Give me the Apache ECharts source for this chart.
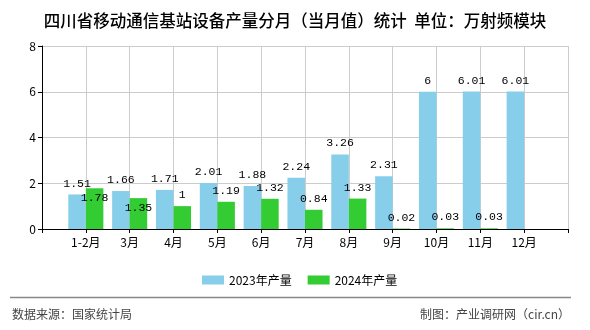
<!DOCTYPE html>
<html><head><meta charset="utf-8">
<script src="https://cdn.jsdelivr.net/npm/echarts@6/dist/echarts.min.js"></script>
<style>html,body{margin:0;padding:0;background:#fff}#c{width:590px;height:330px}</style>
</head><body><div id="c"></div>
<script>
var months = ['1-2月','3月','4月','5月','6月','7月','8月','9月','10月','11月','12月'];
var values2023 = [1.51,1.66,1.71,2.01,1.88,2.24,3.26,2.31,6,6.01,6.01];
var values2024 = [1.78,1.35,1,1.19,1.32,0.84,1.33,0.02,0.03,0.03];
var yTicks = [0,2,4,6,8];

var cats = [''].concat(months).concat(['']);
function pad(arr){ var out=['-']; for(var i=0;i<months.length;i++){ out.push(i<arr.length?arr[i]:'-'); } out.push('-'); return out; }
var d23 = pad(values2023);
var d24 = pad(values2024).map(function(v,i){
  if (i===1 || i===2) return {value:v, label:{offset:[0,21]}};
  return v;
});
var labelStyle = {show:true, position:'top', distance:5, color:'#000', fontSize:11.5, fontFamily:'Liberation Mono, DejaVu Sans Mono, monospace'};
var chart = echarts.init(document.getElementById('c'), null, {renderer:'canvas'});
chart.setOption({
  animation:false,
  backgroundColor:'#fff',
  title:{text:'四川省移动通信基站设备产量分月（当月值）统计  单位：万射频模块', left:'center', top:7,
    textStyle:{fontSize:16.5, fontWeight:500, color:'#000', fontFamily:'Noto Sans CJK SC'}},
  grid:{left:42, right:22, top:46, bottom:101},
  legend:{left:197, top:269, itemWidth:22, itemHeight:9, itemGap:16, icon:'rect',
    textStyle:{fontSize:12, color:'#000', fontFamily:'Noto Sans CJK SC'},
    data:['2023年产量','2024年产量']},
  xAxis:{type:'category', data:cats, boundaryGap:false,
    axisLine:{lineStyle:{color:'#000'}},
    axisTick:{show:true, length:4, interval:0, lineStyle:{color:'#000'}},
    axisLabel:{interval:0, color:'#000', fontSize:12, margin:7, fontFamily:'Noto Sans CJK SC'},
    splitLine:{show:true, interval:0, lineStyle:{color:'#cccccc'}}},
  yAxis:{type:'value', min:yTicks[0], max:yTicks[yTicks.length-1], interval:2,
    axisLine:{show:true, lineStyle:{color:'#000'}},
    axisTick:{show:true, length:4, lineStyle:{color:'#000'}},
    axisLabel:{color:'#000', fontSize:12, margin:6, fontFamily:'Noto Sans CJK SC'},
    splitLine:{show:true, lineStyle:{color:'#cccccc'}}},
  series:[
    {name:'2023年产量', type:'bar', data:d23, barGap:'0%', barCategoryGap:'20%', itemStyle:{color:'#87CEEB'}, label:labelStyle},
    {name:'2024年产量', type:'bar', data:d24, barGap:'0%', barCategoryGap:'20%', itemStyle:{color:'#33CC33'}, label:labelStyle}
  ],
  graphic:[
    {type:'line', shape:{x1:10, y1:297.5, x2:571, y2:297.5}, style:{stroke:'#888', lineWidth:1.5}},
    {type:'text', left:12, top:308, style:{text:'数据来源：国家统计局', fill:'#444', fontSize:12, fontFamily:'Noto Sans CJK SC'}},
    {type:'text', right:20, top:308, style:{text:'制图：产业调研网（cir.cn）', fill:'#444', fontSize:12, fontFamily:'Noto Sans CJK SC'}}
  ]
});
</script></body></html>
